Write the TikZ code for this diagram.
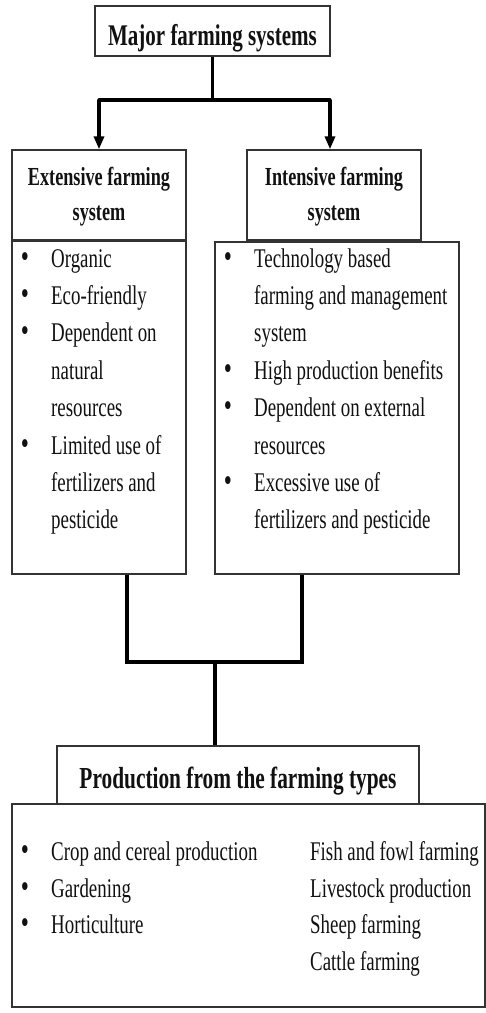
\documentclass[tikz,border=0pt]{standalone}
\usepackage{fontspec}
\setmainfont[FakeStretch=0.7]{Liberation Serif}
\usetikzlibrary{arrows.meta}
\definecolor{boxline}{HTML}{333333}
\definecolor{ink}{HTML}{111111}
\tikzset{
  box/.style={draw=boxline, line width=1.4pt, fill=white, inner sep=0pt},
  conn/.style={draw=black, line width=3.4pt},
  arr/.style={draw=black, line width=3.4pt, -{Triangle[length=13pt,width=10pt]}},
  txt/.style={anchor=base west, inner sep=0pt, text=ink, font=\fontsize{27}{37}\selectfont},
  bul/.style={anchor=base, inner sep=0pt, text=ink, font=\fontsize{33}{37}\selectfont},
  head/.style={anchor=base, inner sep=0pt, text=ink, font=\fontsize{26}{35}\selectfont\bfseries},
}
\begin{document}
\begin{tikzpicture}[x=1pt,y=-1pt]
\useasboundingbox[fill=white] (0,0) rectangle (486,1013);

% boxes
\node[box, minimum width=235pt, minimum height=50pt] (top) at (212.5,31) {};
\node[box, minimum width=174pt, minimum height=90pt] (lhead) at (99,195) {};
\node[box, minimum width=174pt, minimum height=90pt] (rhead) at (334,195) {};
\node[box, minimum width=174pt, minimum height=333pt] (lbox) at (99,407.5) {};
\node[box, minimum width=244pt, minimum height=332pt] (rbox) at (337,408) {};
\node[box, minimum width=362pt, minimum height=58pt] (phead) at (238,775) {};
\node[box, minimum width=473pt, minimum height=203pt] (pbox) at (248.5,905.5) {};

% titles
\node[head, font=\fontsize{30}{36}\selectfont\bfseries] (ttop) at (212.5,45) {Major farming systems};
\node[head] (tl1) at (99,185) {Extensive farming};
\node[head] (tl2) at (99,220) {system};
\node[head] (tr1) at (334,185) {Intensive farming};
\node[head] (tr2) at (334,220) {system};
\node[head, font=\fontsize{30.5}{36}\selectfont\bfseries] (tp) at (238,788) {Production from the farming types};

% left list
\node[bul] (lb1) at (25,267) {\textbullet};
\node[txt] (l1) at (51,267) {Organic};
\node[bul] (lb2) at (25,304) {\textbullet};
\node[txt] (l2) at (51,304) {Eco-friendly};
\node[bul] (lb3) at (25,341.5) {\textbullet};
\node[txt] (l3) at (51,341.5) {Dependent on};
\node[txt] (l4) at (51,379) {natural};
\node[txt] (l5) at (51,416.5) {resources};
\node[bul] (lb6) at (25,454) {\textbullet};
\node[txt] (l6) at (51,454) {Limited use of};
\node[txt] (l7) at (51,491) {fertilizers and};
\node[txt] (l8) at (51,528) {pesticide};

% right list
\node[bul] (rb1) at (228,267) {\textbullet};
\node[txt] (r1) at (254,267) {Technology based};
\node[txt] (r2) at (254,304) {farming and management};
\node[txt] (r3) at (254,341.5) {system};
\node[bul] (rb4) at (228,379) {\textbullet};
\node[txt] (r4) at (254,379) {High production benefits};
\node[bul] (rb5) at (228,416.5) {\textbullet};
\node[txt] (r5) at (254,416.5) {Dependent on external};
\node[txt] (r6) at (254,454) {resources};
\node[bul] (rb7) at (228,491) {\textbullet};
\node[txt] (r7) at (254,491) {Excessive use of};
\node[txt] (r8) at (254,528) {fertilizers and pesticide};

% production list
\node[bul] (pb1) at (25,860) {\textbullet};
\node[txt] (p1) at (51,860) {Crop and cereal production};
\node[bul] (pb2) at (25,897) {\textbullet};
\node[txt] (p2) at (51,897) {Gardening};
\node[bul] (pb3) at (25,933.5) {\textbullet};
\node[txt] (p3) at (51,933.5) {Horticulture};
\node[txt] (q1) at (310,860) {Fish and fowl farming};
\node[txt] (q2) at (310,897) {Livestock production};
\node[txt] (q3) at (310,933.5) {Sheep farming};
\node[txt] (q4) at (310,970) {Cattle farming};

% connectors top
\coordinate (fork) at (212.5,100);
\coordinate (fl) at (99,100);
\coordinate (fr) at (330,100);
\draw[conn] (top.south) -- (fork);
\draw[conn, line cap=round] (fl) -- (fr);
\draw[arr] (fl) -- (lhead.north);
\draw[arr] (fr) -- (fr |- rhead.north);

% connectors bottom
\coordinate (jl) at (127,662);
\coordinate (jr) at (302,662);
\coordinate (jm) at (215,662);
\draw[conn] (jl |- lbox.south) -- (jl) -- (jr) -- (jr |- rbox.south);
\draw[conn] (jm) -- (jm |- phead.north);
\end{tikzpicture}
\end{document}
